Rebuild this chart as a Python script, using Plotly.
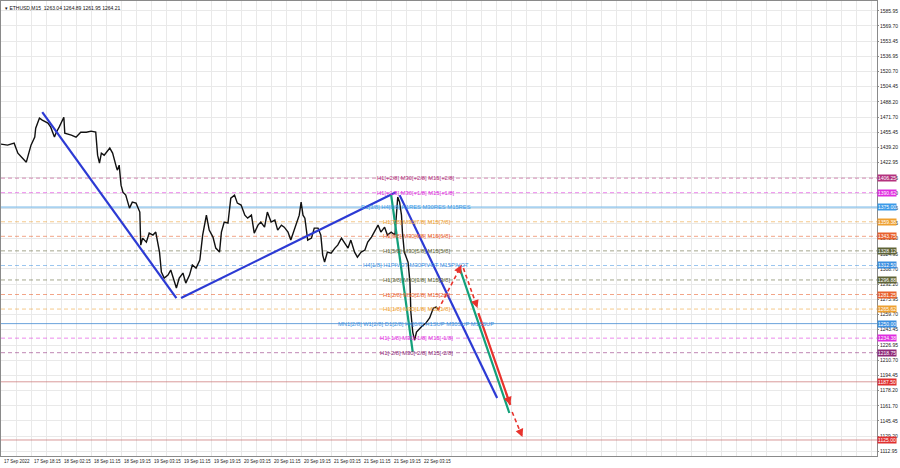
import plotly.graph_objects as go

# ---------------- data ----------------
bar_idx = [0, 7, 14, 18, 23, 27, 32, 36, 37, 41, 44, 50, 53, 57, 59, 62, 67, 68, 75, 80, 85, 91, 96, 101,
           103, 105, 107, 110, 116, 119, 123, 124, 126, 128, 130, 133, 137, 140, 144, 148, 149, 151, 155,
           158, 162, 165, 169, 171, 174, 178, 181, 185, 187, 190, 194, 197, 201, 204, 208, 212, 213, 215,
           219, 222, 226, 229, 233, 235, 238, 242, 245, 249, 252, 256, 260, 263, 267, 270, 274, 277, 281,
           284, 288, 292, 295, 299, 302, 306, 309, 315, 318, 320, 322, 324, 327, 331, 334, 338, 341, 343,
           345, 348, 352, 356, 359, 363, 366, 370, 373, 377, 380, 384, 388, 391, 395, 398, 402, 405, 409,
           412, 416, 420, 423, 425, 427, 428, 430, 434, 436, 437, 439, 441, 443, 448, 453, 457, 461, 464, 467]
close_px = [1442.8, 1441.7, 1443.8, 1433.1, 1427.7, 1423.4, 1441.7, 1450.3, 1459.9, 1470.7, 1468.5, 1465.3,
            1461.0, 1450.3, 1455.6, 1461.0, 1471.7, 1454.6, 1452.4, 1450.3, 1455.6, 1455.6, 1456.7, 1455.6,
            1430.9, 1422.4, 1433.1, 1430.9, 1438.5, 1433.1, 1418.1, 1414.8, 1420.2, 1398.7, 1391.2, 1388.0,
            1374.0, 1380.5, 1379.4, 1369.8, 1334.3, 1341.8, 1337.5, 1347.2, 1345.1, 1348.3, 1326.8, 1305.3,
            1298.9, 1302.1, 1307.5, 1294.6, 1288.2, 1298.9, 1304.3, 1293.5, 1302.1, 1312.9, 1309.6, 1318.2,
            1326.8, 1345.1, 1366.5, 1350.4, 1342.9, 1331.1, 1326.8, 1348.3, 1359.0, 1357.9, 1384.8, 1388.0,
            1379.4, 1377.3, 1366.5, 1363.3, 1366.5, 1347.2, 1355.8, 1359.0, 1353.6, 1369.8, 1359.0, 1361.2,
            1350.4, 1355.8, 1353.6, 1348.3, 1339.7, 1359.0, 1366.5, 1380.5, 1366.5, 1363.3, 1339.7, 1341.8,
            1352.6, 1352.6, 1345.1, 1323.6, 1316.1, 1326.8, 1325.7, 1331.1, 1334.3, 1341.8, 1337.5, 1331.1,
            1339.7, 1326.8, 1321.4, 1326.8, 1329.0, 1337.5, 1342.9, 1348.3, 1355.8, 1348.3, 1353.6, 1345.1,
            1348.3, 1345.1, 1385.9, 1380.5, 1366.5, 1348.3, 1326.8, 1316.1, 1294.6, 1262.4, 1240.9, 1232.3,
            1240.9, 1246.3, 1250.6, 1256.0, 1266.7, 1267.8, 1264.5]

# x-axis time labels (every 32 M15 bars)
time_label_bars = [0, 32, 64, 96, 128, 160, 192, 224, 256, 288, 320, 352, 384, 416, 448]
time_labels = ["17 Sep 2022", "17 Sep 18:15", "18 Sep 02:15", "18 Sep 11:15", "18 Sep 19:15",
               "19 Sep 03:15", "19 Sep 11:15", "19 Sep 19:15", "20 Sep 03:15", "20 Sep 11:15",
               "20 Sep 19:15", "21 Sep 03:15", "21 Sep 11:15", "21 Sep 19:15", "22 Sep 03:15"]

# price-axis ticks
price_ticks = [1585.95, 1569.70, 1553.45, 1536.95, 1520.70, 1504.45, 1488.20, 1471.70, 1455.45, 1439.20,
               1422.95, 1406.45, 1390.20, 1373.95, 1357.45, 1341.20, 1324.95, 1308.70, 1292.20, 1275.95,
               1259.70, 1243.45, 1226.95, 1210.70, 1194.45, 1178.20, 1161.70, 1145.45, 1129.20, 1112.95]

# Murrey-math style levels
level_prices = [1406.25, 1390.62, 1375.00, 1359.38, 1343.75, 1328.12, 1312.50, 1296.88, 1281.25,
                1265.62, 1250.00, 1234.38, 1218.75, 1187.50, 1125.00]
level_texts = ["H1[+2/8] M30[+2/8] M15[+2/8]", "H1[+1/8] M30[+1/8] M15[+1/8]",
               "D1[3/8] H4[8/8] H1RES M30RES M15RES", "H1[7/8] M30[7/8] M15[7/8]",
               "H1[6/8] M30[6/8] M15[6/8]", "H1[5/8] M30[5/8] M15[5/8]",
               "H4[1/8] H1PIVOT M30PIVOT M15PIVOT", "H1[3/8] M30[3/8] M15[3/8]",
               "H1[2/8] M30[2/8] M15[2/8]", "H1[1/8] M30[1/8] M15[1/8]",
               "MN1[2/8] W1[2/8] D1[2/8] H4[0/8] H1SUP M30SUP M15SUP",
               "H1[-1/8] M30[-1/8] M15[-1/8]", "H1[-2/8] M30[-2/8] M15[-2/8]", "", ""]
level_colors = ["#b4327e", "#e02ee0", "#3b9ae8", "#eea030", "#e8602c", "#5e6336", "#3b8fe0",
                "#5e6336", "#e8602c", "#eea030", "#3b8fe0", "#e02ee0", "#8e2a78", "#e03030", "#e03030"]

# drawn trend lines (bar index, price)
blue_lines = [([44, 187], [1477.1, 1277.4]),
              ([192, 421], [1277.4, 1391.2]),
              ([425, 529], [1388.0, 1170.1])]
green_lines = [([416, 439], [1388.0, 1219.5]),
               ([489, 542], [1309.6, 1154.0])]
red_solid = ([509, 543], [1261.3, 1162.6])
red_dashed = [([466, 491], [1264.5, 1312.9]),
              ([493, 508], [1309.6, 1266.7]),
              ([545, 556], [1155.0, 1128.2])]

# ---------------- figure ----------------
fig = go.Figure()

FONT = "Liberation Sans"

# horizontal levels
for i, (p, c) in enumerate(zip(level_prices, level_colors)):
    if p == 1375.00:
        style = dict(color="rgba(140,195,235,0.75)", width=2.2)
    elif p == 1250.00:
        style = dict(color="rgba(70,140,210,0.8)", width=1)
    elif p in (1187.50, 1125.00):
        style = dict(color="rgba(200,110,110,0.7)", width=1)
    else:
        style = dict(color=c, width=0.8, dash="4px,3px")
    fig.add_trace(go.Scatter(x=[0, 934], y=[p, p], mode="lines", line=style,
                             opacity=0.7 if "dash" in style else 1,
                             hoverinfo="skip", showlegend=False))

# price series
fig.add_trace(go.Scatter(x=bar_idx, y=close_px, mode="lines",
                         line=dict(color="#111111", width=1.4), showlegend=False))

# trend lines
for xs, ys in blue_lines:
    fig.add_trace(go.Scatter(x=xs, y=ys, mode="lines", line=dict(color="#2c3ad4", width=2.2),
                             showlegend=False))
for xs, ys in green_lines:
    fig.add_trace(go.Scatter(x=xs, y=ys, mode="lines", line=dict(color="#12a07a", width=2.2),
                             showlegend=False))
fig.add_trace(go.Scatter(x=red_solid[0], y=red_solid[1], mode="lines",
                         line=dict(color="#e8322c", width=2.2), showlegend=False))
for xs, ys in red_dashed:
    fig.add_trace(go.Scatter(x=xs, y=ys, mode="lines",
                             line=dict(color="#e8322c", width=1.6, dash="4px,3px"), showlegend=False))

annotations = []
# arrow heads
for xs, ys in red_dashed + [red_solid]:
    x0, x1 = xs
    y0, y1 = ys
    annotations.append(dict(x=x1, y=y1, ax=x1 - 0.15 * (x1 - x0), ay=y1 - 0.15 * (y1 - y0),
                            xref="x", yref="y", axref="x", ayref="y", text="", showarrow=True,
                            arrowhead=2, arrowsize=1, arrowwidth=1.6, arrowcolor="#e8322c"))

# level texts on the chart
for p, t, c in zip(level_prices, level_texts, level_colors):
    if t:
        annotations.append(dict(x=443, y=p, xref="x", yref="y", text=t, showarrow=False,
                                xanchor="center", yanchor="middle",
                                font=dict(family=FONT, size=5.8, color=c)))
    # right-hand price tags
    annotations.append(dict(x=1, y=p, xref="paper", yref="y", text="%.2f" % p, showarrow=False,
                            xanchor="left", yanchor="middle", xshift=0, bgcolor=c,
                            borderpad=0, font=dict(family=FONT, size=5, color="white")))

# time labels
for b, t in zip(time_label_bars, time_labels):
    annotations.append(dict(x=b, y=0, xref="x", yref="paper", text=t, showarrow=False,
                            xanchor="left", yanchor="top", xshift=1, yshift=-1,
                            font=dict(family=FONT, size=4.5, color="#222222")))

# header
annotations.append(dict(x=0.002, y=1, xref="paper", yref="paper",
                        text="▾ ETHUSD,M15  1263.04 1264.89 1261.95 1264.21", showarrow=False,
                        xanchor="left", yanchor="top", yshift=-2,
                        font=dict(family=FONT, size=5, color="#111111")))

fig.update_layout(
    width=900, height=468,
    margin=dict(l=1, r=23, t=1, b=12, autoexpand=False),
    paper_bgcolor="white", plot_bgcolor="white",
    showlegend=False,
    annotations=annotations,
    xaxis=dict(range=[0, 934], tickvals=list(range(0, 935, 16)), showticklabels=False,
               showgrid=True, gridcolor="#e9e9e9", gridwidth=1, zeroline=False, automargin=False,
               showline=True, linecolor="#8a8a8a", linewidth=1, mirror=True, ticks=""),
    yaxis=dict(range=[1107.8, 1596.5], side="right", tickvals=price_ticks,
               ticktext=["%.2f" % v for v in price_ticks], automargin=False,
               tickfont=dict(family=FONT, size=5, color="#222222"),
               showgrid=True, gridcolor="#e9e9e9", gridwidth=1, zeroline=False,
               showline=True, linecolor="#8a8a8a", linewidth=1, mirror=True,
               ticks="outside", ticklen=1, tickcolor="#8a8a8a"),
)

fig.write_html("out.html", config={"displayModeBar": False},
               post_script="document.body.style.margin='0';document.body.style.overflow='hidden';")
